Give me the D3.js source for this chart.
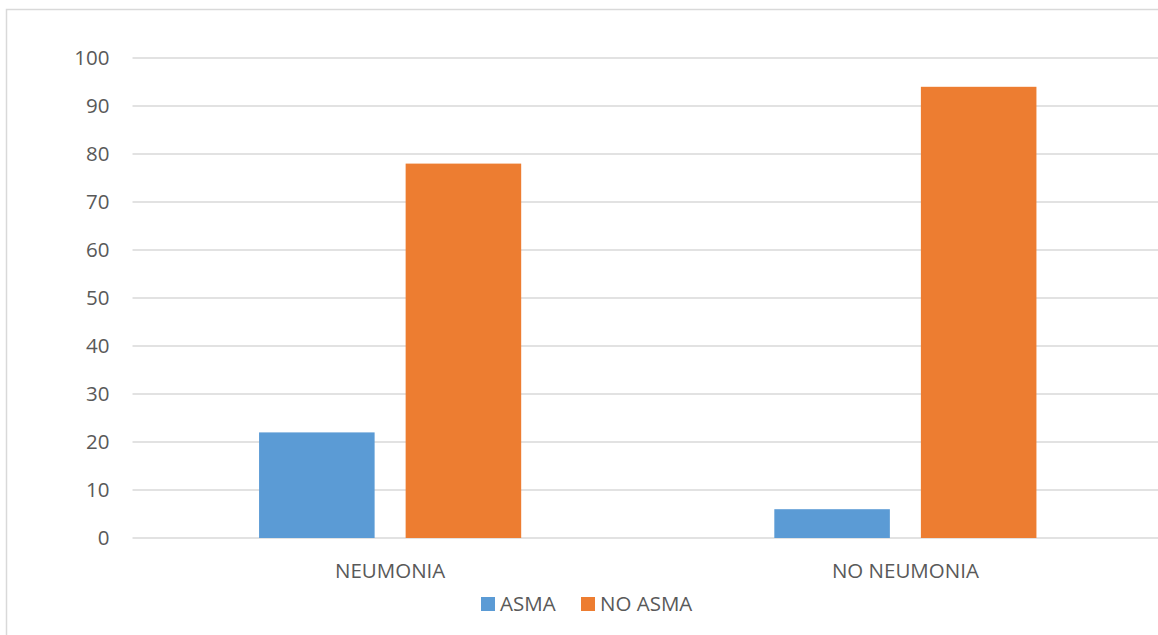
<!DOCTYPE html>
<html>
<head>
<meta charset="utf-8">
<script src="https://cdn.jsdelivr.net/npm/d3@7"></script>
<style>
  body { margin: 0; background: #fff; overflow: hidden; }
  text { font-family: 'Open Sans', sans-serif; fill: #595959; }
</style>
</head>
<body>
<script>
const categories = ['NEUMONIA', 'NO NEUMONIA']
const seriesNames = ['ASMA', 'NO ASMA']
const asma = [22, 6]
const noAsma = [78, 94]
const yTicks = [0, 10, 20, 30, 40, 50, 60, 70, 80, 90, 100]
const colors = ['#5b9bd5', '#ed7d31']

const width = 1158
const height = 635
const margin = { left: 132.5, top: 58, right: -5, bottom: 97 }
const innerWidth = width - margin.left - margin.right
const innerHeight = height - margin.top - margin.bottom

const data = categories.map((c, i) => ({ category: c, values: [asma[i], noAsma[i]] }))

const svg = d3.select('body').append('svg')
  .attr('width', width)
  .attr('height', height)

// outer chart border (cut off at right and bottom)
svg.append('rect')
  .attr('x', 6.5).attr('y', 9.5)
  .attr('width', width + 10).attr('height', height + 10)
  .attr('fill', 'none')
  .attr('stroke', '#d9d9d9')
  .attr('stroke-width', 1.5)

const g = svg.append('g').attr('transform', `translate(${margin.left},${margin.top})`)

const xScale = d3.scaleBand().domain(categories).range([0, innerWidth]).padding(0)
const innerScale = d3.scaleBand().domain(seriesNames)
  .range([0, xScale.bandwidth()])
  .paddingInner(0.2116)
  .paddingOuter(0.8635)
const yScale = d3.scaleLinear().domain([0, 100]).range([innerHeight, 0])

// gridlines
g.append('g').selectAll('line').data(yTicks).enter().append('line')
  .attr('x1', 0).attr('x2', innerWidth)
  .attr('y1', d => yScale(d)).attr('y2', d => yScale(d))
  .attr('stroke', '#d9d9d9').attr('stroke-width', 1.5)

// y labels
const yAxisG = g.append('g').call(d3.axisLeft(yScale).tickValues(yTicks).tickSize(0).tickPadding(23))
yAxisG.select('.domain').remove()
yAxisG.selectAll('text').style('font-size', '20.5px').attr('fill', '#595959')

// bars
const groups = g.selectAll('.grp').data(data).enter().append('g')
  .attr('class', 'grp')
  .attr('transform', d => `translate(${xScale(d.category)},0)`)

groups.selectAll('rect').data(d => d.values.map((v, i) => ({ s: seriesNames[i], v, i })))
  .enter().append('rect')
  .attr('x', d => innerScale(d.s))
  .attr('width', innerScale.bandwidth())
  .attr('y', d => yScale(d.v))
  .attr('height', d => yScale(0) - yScale(d.v))
  .attr('fill', d => colors[d.i])

// category labels
g.append('g').selectAll('text').data(categories).enter().append('text')
  .attr('x', d => xScale(d) + xScale.bandwidth() / 2)
  .attr('y', innerHeight + 33)
  .attr('dy', '0.35em')
  .attr('text-anchor', 'middle')
  .style('font-size', '20.5px')
  .text(d => d)

// legend
const legend = svg.append('g').attr('transform', 'translate(481,604)')
const legendX = [0, 100]
seriesNames.forEach((s, i) => {
  const lg = legend.append('g').attr('transform', `translate(${legendX[i]},0)`)
  lg.append('rect').attr('x', 0).attr('y', -7).attr('width', 14).attr('height', 14).attr('fill', colors[i])
  lg.append('text').attr('x', 19).attr('y', 0).attr('dy', '0.35em')
    .style('font-size', '20.5px').text(s)
})
</script>
</body>
</html>
